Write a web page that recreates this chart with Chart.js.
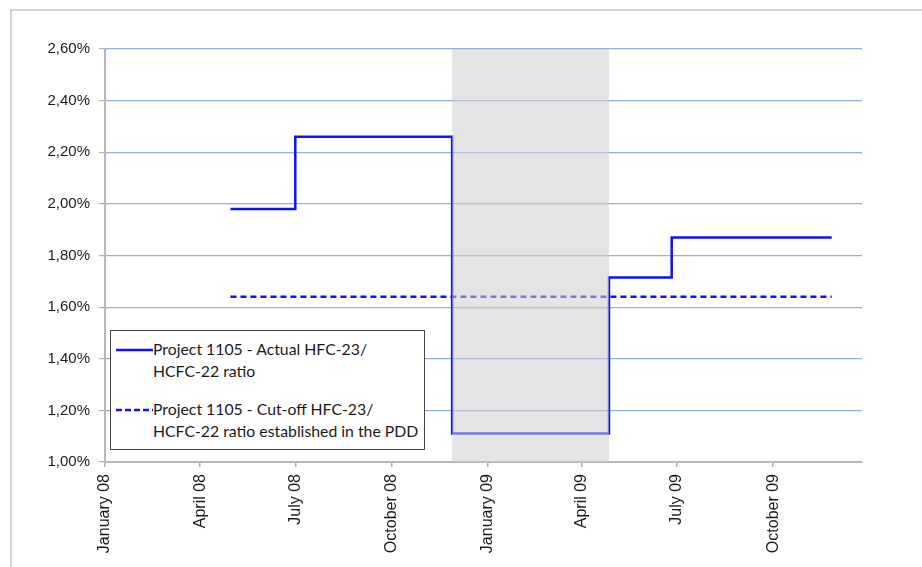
<!DOCTYPE html>
<html>
<head>
<meta charset="utf-8">
<script src="https://cdn.jsdelivr.net/npm/chart.js@4.4.1/dist/chart.umd.min.js"></script>
<style>
body { margin: 0; background: #fff; font-family: Lato, "Open Sans", sans-serif; }
#wrap { position: relative; width: 922px; height: 567px; overflow: hidden; }
#frame { position: absolute; left: 10px; top: 9px; right: -4px; bottom: -4px;
  border-top: 2px solid #d2d2d2; border-left: 2px solid #d2d2d2; }
#myChart { position: absolute; left: 0; top: 0; }
#legend { position: absolute; left: 110px; top: 330px; width: 313px; height: 118px;
  border: 1px solid #444; background: #fff; font-size: 15.8px; color: #1a1a1a; }
.item { position: absolute; left: 5px; }
.item svg { position: absolute; left: 0; top: 9px; }
.item span { position: absolute; left: 37px; top: 0; white-space: pre; line-height: 22px; }
</style>
</head>
<body>
<div id="wrap">
  <div id="frame"></div>
  <canvas id="myChart" width="922" height="567"></canvas>
  <div id="legend"></div>
</div>
<script>
// values
var actualDates = ['2008-04-30', '2008-07-01', '2008-11-28', '2009-04-27', '2009-06-26', '2009-11-26'];
var actualRatio = [1.98, 2.26, 1.11, 1.715, 1.87, 1.87];
var cutoffDates = ['2008-04-30', '2009-11-26'];
var cutoffRatio = [1.64, 1.64];
var tickDates = ['2008-01-01', '2008-04-01', '2008-07-01', '2008-10-01', '2009-01-01', '2009-04-01', '2009-07-01', '2009-10-01'];
var tickLabels = ['January 08', 'April 08', 'July 08', 'October 08', 'January 09', 'April 09', 'July 09', 'October 09'];
var axisRange = ['2008-01-01', '2009-12-25'];
var shadedPeriod = ['2008-11-28', '2009-04-27'];
var seriesNames = ['Project 1105 - Actual HFC-23/\nHCFC-22 ratio', 'Project 1105 - Cut-off HFC-23/\nHCFC-22 ratio established in the PDD'];

function dayOf(d) {
    return (Date.parse(d) - Date.parse(axisRange[0])) / 86400000;
}
function points(dates, vals) {
    return dates.map(function (d, i) { return { x: dayOf(d), y: vals[i] }; });
}

var xFont = { family: '"Liberation Sans", Arial, sans-serif', size: 16 };
var yFont = { family: '"Liberation Sans", Arial, sans-serif', size: 15 };

var shadeBand = {
    id: 'shadeBand',
    afterDatasetsDraw: function (chart) {
        var c = chart.ctx, a = chart.chartArea, x = chart.scales.x;
        var x0 = x.getPixelForValue(dayOf(shadedPeriod[0]));
        var x1 = x.getPixelForValue(dayOf(shadedPeriod[1]));
        c.save();
        c.fillStyle = 'rgba(205, 205, 205, 0.55)';
        c.fillRect(x0, a.top, x1 - x0, a.bottom - a.top);
        c.restore();
    }
};

var ctx = document.getElementById('myChart').getContext('2d');
var myChart = new Chart(ctx, {
    type: 'line',
    data: {
        datasets: [{
            label: seriesNames[0],
            data: points(actualDates, actualRatio),
            stepped: 'before',
            borderColor: '#1010ff',
            borderWidth: 2.5,
            pointRadius: 0,
            fill: false
        }, {
            label: seriesNames[1],
            data: points(cutoffDates, cutoffRatio),
            borderColor: '#1010ff',
            borderWidth: 2.5,
            borderDash: [6, 4],
            pointRadius: 0,
            fill: false
        }]
    },
    options: {
        responsive: false,
        animation: false,
        layout: { padding: { top: 49, right: 60, left: 0, bottom: 0 } },
        plugins: { legend: { display: false }, tooltip: { enabled: false } },
        scales: {
            x: {
                type: 'linear',
                min: dayOf(axisRange[0]),
                max: dayOf(axisRange[1]),
                afterBuildTicks: function (s) {
                    s.ticks = tickDates.map(function (d) { return { value: dayOf(d) }; });
                },
                ticks: {
                    autoSkip: false, minRotation: 90, maxRotation: 90, padding: 7,
                    font: xFont, color: '#1a1a1a',
                    callback: function (v, i) { return tickLabels[i]; }
                },
                grid: { drawOnChartArea: false, tickLength: 5, tickColor: '#b0b0b0', lineWidth: 1.5 },
                border: { color: '#b8b8b8', width: 2 },
                afterFit: function (s) { s.height = 567 - 462; }
            },
            y: {
                min: 1.0,
                max: 2.6,
                ticks: {
                    stepSize: 0.2, padding: 9, font: yFont, color: '#1a1a1a',
                    callback: function (v) { return v.toFixed(2).replace('.', ',') + '%'; }
                },
                grid: { color: '#8fb2da', lineWidth: 1.2, tickColor: '#b0b0b0', tickLength: 6 },
                border: { color: '#b8b8b8', width: 2 },
                afterFit: function (s) { s.width = 105; }
            }
        }
    },
    plugins: [shadeBand]
});

// legend box drawn inside the plot, as in the picture
var legend = document.getElementById('legend');
var rowTop = [7, 67];
myChart.data.datasets.forEach(function (ds, i) {
    var dash = ds.borderDash ? ' stroke-dasharray="6 3"' : '';
    var item = document.createElement('div');
    item.className = 'item';
    item.style.top = rowTop[i] + 'px';
    item.innerHTML = '<svg width="37" height="6"><line x1="0" y1="3" x2="37" y2="3" stroke="' +
        ds.borderColor + '" stroke-width="2.5"' + dash + '/></svg><span></span>';
    item.querySelector('span').textContent = ds.label;
    legend.appendChild(item);
});
</script>
</body>
</html>
